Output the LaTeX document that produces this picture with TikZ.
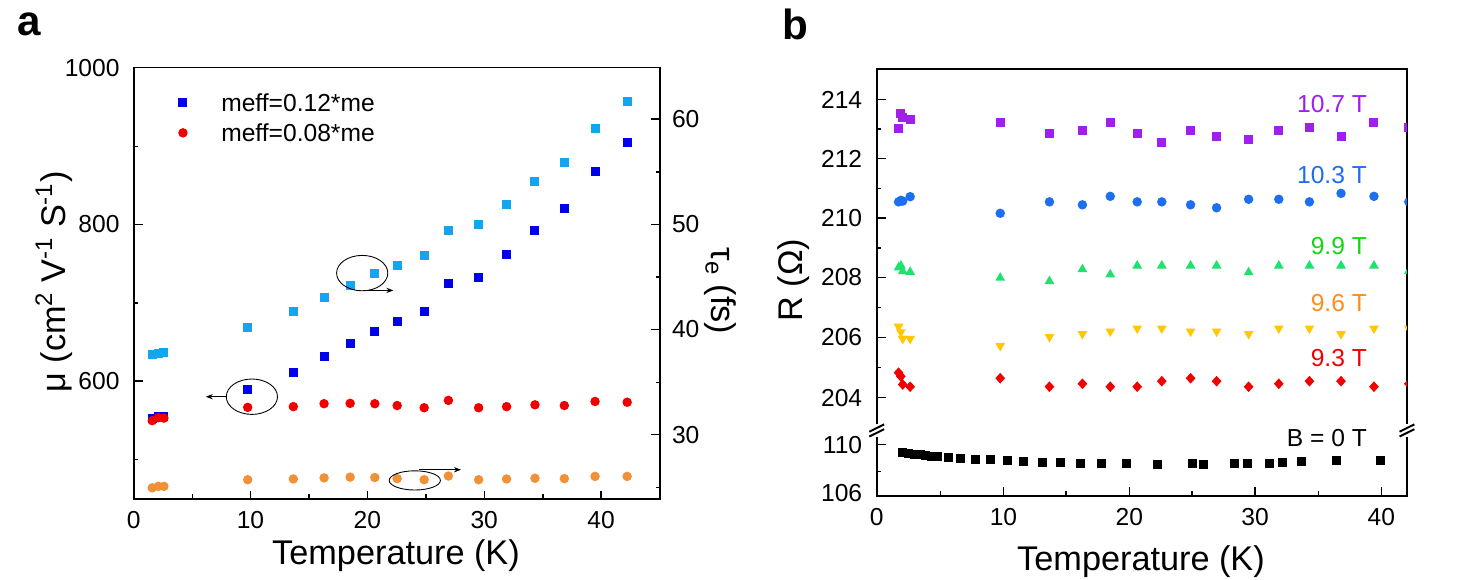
\documentclass[tikz,border=0pt]{standalone}
\usepackage{fontspec}
\setmainfont{Liberation Sans}
\usetikzlibrary{shapes.geometric,arrows.meta}
\definecolor{lblue}{RGB}{20,165,240}
\definecolor{dblue}{RGB}{0,0,235}
\definecolor{mred}{RGB}{240,0,0}
\definecolor{morange}{RGB}{240,145,55}
\definecolor{mpurple}{RGB}{160,30,240}
\definecolor{bblue}{RGB}{30,110,240}
\definecolor{mgreen}{RGB}{30,225,110}
\definecolor{lgreen}{RGB}{20,215,20}
\definecolor{myellow}{RGB}{255,200,0}
\definecolor{lorange}{RGB}{255,140,30}
\tikzset{
 sqm/.style={rectangle,fill=#1,inner sep=0pt,minimum size=0.18cm},
 cim/.style={circle,fill=#1,inner sep=0pt,minimum size=0.19cm},
 tum/.style={isosceles triangle,isosceles triangle apex angle=60,shape border rotate=90,fill=#1,inner sep=0pt,minimum height=0.17cm},
 tdm/.style={isosceles triangle,isosceles triangle apex angle=60,shape border rotate=-90,fill=#1,inner sep=0pt,minimum height=0.17cm},
 dim/.style={diamond,fill=#1,inner sep=0pt,minimum width=0.2cm,minimum height=0.22cm},
 tick/.style={font=\fontsize{14}{16}\selectfont},
 ttl/.style={font=\fontsize{19.5}{22}\selectfont},
 frame/.style={line width=1.1pt},
 tk/.style={line width=0.8pt},
 ann/.style={line width=0.5pt},
}
\begin{document}
\begin{tikzpicture}[x=0.02cm,y=-0.02cm]
\useasboundingbox[fill=white] (0,0) rectangle (1458,579);
% ===== panel a =====
\node[font=\fontsize{24}{26}\selectfont\bfseries] (la) at (29,24) {a};
\begin{scope}[xscale=0.4656,yscale=0.369]
 \draw[frame] (287,183) rectangle (1418,1352);
 % bottom ticks
 \foreach \x in {287,538,789,1040,1291} \draw[tk] (\x,1352) -- (\x,1330);
 \foreach \x in {413,664,915,1166} \draw[tk] (\x,1352) -- (\x,1340);
 \foreach \x/\t in {287/0,538/10,789/20,1040/30,1291/40} \node[tick,anchor=north] at (\x,1370) {\t};
 % left ticks
 \foreach \y in {183,608,1033} \draw[tk] (287,\y) -- (307,\y);
 \foreach \y in {397,821,1245} \draw[tk] (287,\y) -- (297,\y);
 \foreach \y/\t in {183/1000,608/800,1033/600} \node[tick,anchor=east] at (270,\y) {\t};
 % right ticks
 \foreach \y in {323,608,893,1178} \draw[tk] (1418,\y) -- (1398,\y);
 \foreach \y in {466,751,1036,1321} \draw[tk] (1418,\y) -- (1408,\y);
 \foreach \y/\t in {323/60,608/50,893/40,1178/30} \node[tick,anchor=west] at (1430,\y) {\t};
 % data
 \foreach \p in {(327,962),(340,958),(352,955),(532,887),(630,845),(696,806),(752,773),(805,742),(853,720),(911,692),(963,625),(1028,608),(1088,553),(1149,493),(1212,440),(1278,347),(1347,275)}
   \node[sqm=lblue] at \p {};
 \foreach \p in {(327,1135),(340,1130),(352,1128),(532,1055),(630,1010),(696,966),(752,931),(805,899),(853,872),(911,843),(963,769),(1028,751),(1088,690),(1149,624),(1212,565),(1278,466),(1347,387)}
   \node[sqm=dblue] at \p {};
 \foreach \p in {(327,1140),(340,1132),(352,1133),(532,1104),(630,1102),(696,1094),(752,1093),(805,1094),(853,1099),(911,1105),(963,1085),(1028,1105),(1088,1102),(1149,1097),(1212,1099),(1278,1088),(1347,1090)}
   \node[cim=mred] at \p {};
 \foreach \p in {(327,1322),(340,1318),(352,1318),(532,1300),(630,1298),(696,1295),(752,1293),(805,1294),(853,1297),(911,1300),(963,1290),(1028,1300),(1088,1298),(1149,1296),(1212,1297),(1278,1291),(1347,1291)}
   \node[cim=morange] at \p {};
 % legend
 \node[sqm=dblue] (lg1) at (393,277) {};
 \node[tick,anchor=west] (lt1) at (462,277) {meff=0.12*me};
 \node[cim=mred] (lg2) at (393,360) {};
 \node[tick,anchor=west] (lt2) at (462,360) {meff=0.08*me};
\end{scope}
% annotations
\draw[ann] (362.2,273.1) ellipse [x radius=25.6,y radius=17.7];
\draw[ann,-{Stealth[length=4pt]}] (363.2,290.4) -- (393.4,290.4);
\draw[ann] (251.9,396.7) ellipse [x radius=25.6,y radius=17.7];
\draw[ann,-{Stealth[length=4pt]}] (226.7,396.7) -- (205.8,396.7);
\draw[ann] (414.8,480.4) ellipse [x radius=25.6,y radius=9.6];
\draw[ann,-{Stealth[length=4pt]}] (419,469.7) -- (461,469.7);
\node[ttl,rotate=90] (ya) at (54,282) {μ (cm\textsuperscript{2} V\textsuperscript{-1} S\textsuperscript{-1})};
\node[ttl,rotate=-90] (yr) at (720,291) {τ\textsubscript{e} (fs)};
\node[ttl] (xa) at (396,556) {Temperature (K)};
% ===== panel b =====
\node[font=\fontsize{24}{26}\selectfont\bfseries] (lb) at (795,24) {b};
\begin{scope}[shift={(730,0)},xscale=0.4643,yscale=0.369]
 \draw[frame] (316,1150) -- (316,187) -- (1458,187) -- (1458,1150);
 \draw[frame] (316,1183) -- (316,1343) -- (1458,1343) -- (1458,1183);
 \draw[frame] (300,1170) -- (332,1150) (300,1183) -- (332,1163);
 \draw[frame] (1442,1170) -- (1474,1150) (1442,1183) -- (1474,1163);
 \foreach \x in {316,589,860,1131,1403} \draw[tk] (\x,1343) -- (\x,1321);
 \foreach \x in {453,724,995,1267} \draw[tk] (\x,1343) -- (\x,1331);
 \foreach \x/\t in {316/0,589/10,860/20,1131/30,1403/40} \node[tick,anchor=north] at (\x,1362) {\t};
 \foreach \y in {270,430,591,752,914,1078,1205,1343} \draw[tk] (316,\y) -- (336,\y);
 \foreach \y in {350,511,672,833,996,1278} \draw[tk] (316,\y) -- (326,\y);
 \foreach \y/\t in {270/214,430/212,591/210,752/208,914/206,1078/204,1205/110,1336/106} \node[tick,anchor=east] at (298,\y) {\t};
 \foreach \p in {(363,347),(368,308),(372,318),(388,323),(582,331),(688,362),(759,354),(819,331),(877,362),(930,385),(992,354),(1048,370),(1117,377),(1182,354),(1248,346),(1316,370),(1387,331)}
   \node[sqm=mpurple] at \p {};
 \foreach \p in {(363,547),(368,543),(372,545),(388,533),(582,578),(688,547),(759,555),(819,532),(877,547),(930,547),(992,555),(1048,563),(1117,540),(1182,540),(1248,547),(1316,524),(1387,532)}
   \node[cim=bblue] at \p {};
 \foreach \p in {(363,725),(368,720),(372,735),(388,737),(582,753),(688,762),(759,730),(819,744),(877,720),(930,720),(992,720),(1048,720),(1117,738),(1182,720),(1248,720),(1316,720),(1387,720)}
   \node[tum=mgreen] at \p {};
 \foreach \p in {(363,885),(368,900),(372,918),(388,918),(582,937),(688,913),(759,905),(819,898),(877,890),(930,890),(992,898),(1048,898),(1117,905),(1182,890),(1248,890),(1316,905),(1387,890)}
   \node[tdm=myellow] at \p {};
 \foreach \p in {(363,1010),(368,1020),(372,1042),(388,1048),(582,1025),(688,1048),(759,1040),(819,1048),(877,1048),(930,1033),(992,1025),(1048,1033),(1117,1048),(1182,1040),(1248,1033),(1316,1033),(1387,1048)}
   \node[dim=mred] at \p {};
 \foreach \p in {(372,1225),(385,1228),(398,1232),(410,1233),(422,1235),(434,1236),(446,1237),(470,1240),(497,1242),(528,1244),(561,1246),(597,1248),(633,1251),(672,1252),(712,1254),(755,1255),(801,1255),(854,1256),(920,1258),(997,1257),(1020,1258),(1086,1256),(1114,1255),(1161,1255),(1189,1253),(1231,1251),(1307,1248),(1402,1247)}
   \node[sqm=black] at \p {};
 % clipped half markers at right edge
 \begin{scope}
  \clip (316,187) rectangle (1458,1343);
  \node[sqm=mpurple] at (1462,346) {};
  \node[cim=bblue] at (1462,547) {};
  \node[tum=mgreen] at (1462,735) {};
  \node[tdm=myellow] at (1462,890) {};
  \node[dim=mred] at (1462,1040) {};
 \end{scope}
 \node[tick,anchor=east,text=mpurple] (t1) at (1385,282) {10.7 T};
 \node[tick,anchor=east,text=bblue] (t2) at (1385,473) {10.3 T};
 \node[tick,anchor=east,text=lgreen] (t3) at (1385,668) {9.9 T};
 \node[tick,anchor=east,text=lorange] (t4) at (1385,822) {9.6 T};
 \node[tick,anchor=east,text=mred] (t5) at (1385,970) {9.3 T};
 \node[tick,anchor=east] (t6) at (1385,1188) {B = 0 T};
\end{scope}
\node[ttl,rotate=90] (yb) at (794,280) {R (Ω)};
\node[ttl] (xb) at (1141,562) {Temperature (K)};
\end{tikzpicture}
\end{document}
